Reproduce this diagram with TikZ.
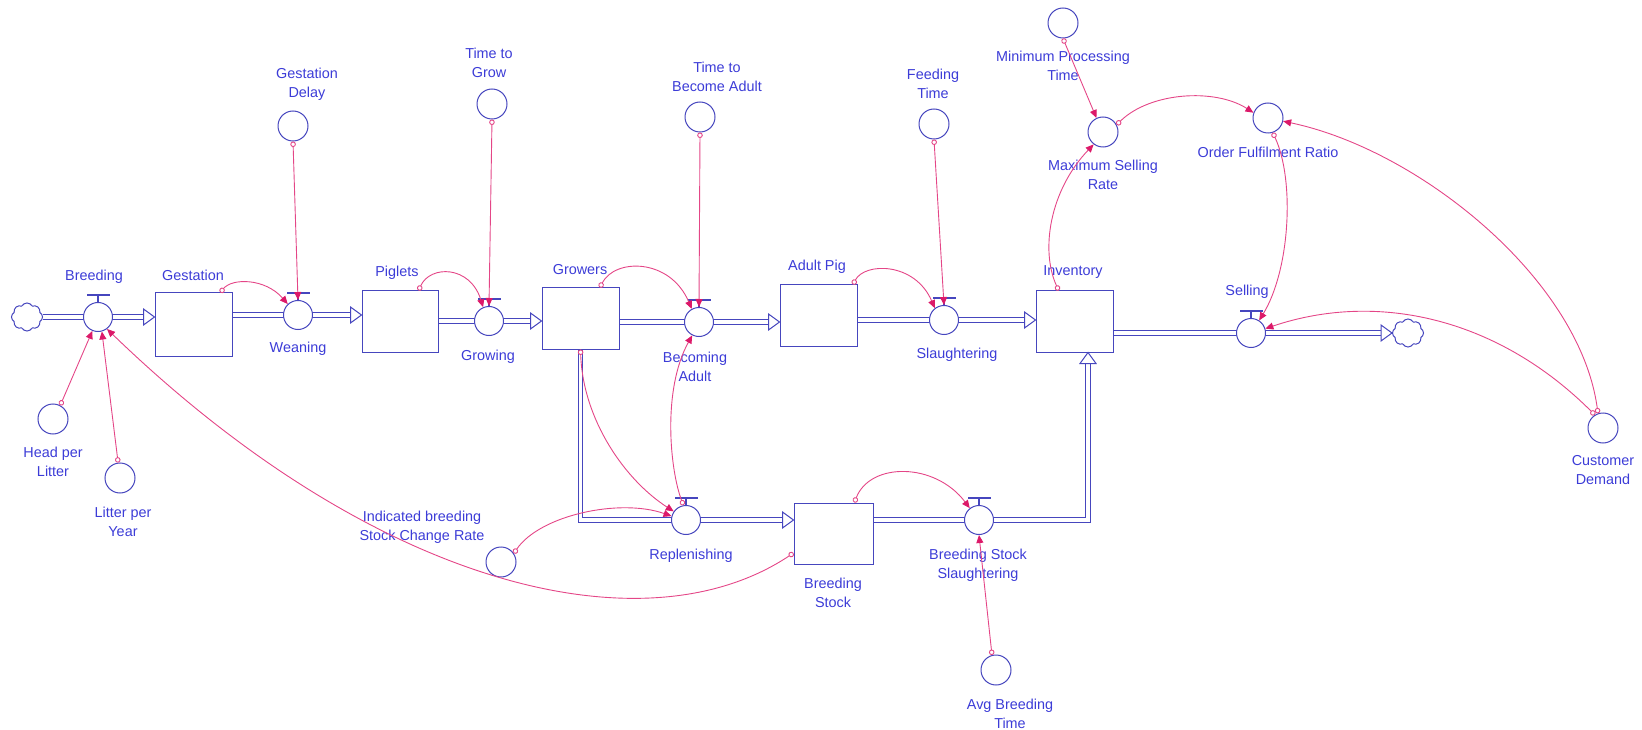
\documentclass[tikz,border=0pt]{standalone}
\usepackage{fontspec}
\setmainfont{Liberation Sans}
\usetikzlibrary{arrows.meta,shapes.symbols,calc,backgrounds}
\definecolor{sdblue}{RGB}{70,70,190}
\definecolor{sdtext}{RGB}{60,60,215}
\definecolor{sdpink}{RGB}{228,70,135}
\definecolor{sdpinkdark}{RGB}{220,25,105}
\begin{document}
\begin{tikzpicture}[x=1pt,y=-1pt,
  stock/.style={draw=sdblue, line width=1pt, fill=white, rectangle, inner sep=0pt},
  valve/.style={draw=sdblue, line width=1pt, fill=white, circle, minimum size=29pt, inner sep=0pt},
  aux/.style={draw=sdblue, line width=1pt, fill=white, circle, minimum size=30pt, inner sep=0pt},
  sdcloud/.style={draw=sdblue, line width=1pt, fill=white, cloud, cloud puffs=8, cloud puff arc=120, aspect=1.1, minimum width=31pt, minimum height=28pt, inner sep=0pt},
  lbl/.style={text=sdtext, font=\fontsize{14.4}{19}\selectfont, align=center, inner sep=0pt},
  pipe/.style={draw=sdblue, line width=1pt, double=white, double distance=3.6pt},
  conn/.style={draw=sdpink, line width=0.9pt, {Circle[length=5.5pt,width=5.5pt,fill=white]}-{Triangle[length=8pt,width=7pt,color=sdpinkdark]}},
  pipetip/.pic={\draw[draw=sdblue, fill=white, line width=1pt, line join=miter] (-11,-8) -- (0,0) -- (-11,8) -- cycle;},
  handle/.pic={\draw[sdblue, line width=1.5pt] (-11,-22) -- (12,-22); \draw[sdblue, line width=1.1pt] (0,-22) -- (0,-14.5);}
]
\useasboundingbox (0,0) rectangle (1642,730);

% stocks
\node[stock, minimum width=77pt, minimum height=63pt] (gest) at (193.5,324.5) {};
\node[stock, minimum width=76pt, minimum height=61pt] (piglets) at (400,321.5) {};
\node[stock, minimum width=77pt, minimum height=61pt] (growers) at (580.5,318.5) {};
\node[stock, minimum width=77pt, minimum height=61pt] (adult) at (818.5,315.5) {};
\node[stock, minimum width=77pt, minimum height=61pt] (inv) at (1074.5,321.5) {};
\node[stock, minimum width=79pt, minimum height=61pt] (bstock) at (833.5,533.5) {};

% clouds
\node[sdcloud] (cloudL) at (27,317) {};
\node[sdcloud] (cloudR) at (1408,333) {};

% valves
\node[valve] (breeding) at (98,317) {};
\node[valve] (weaning) at (298,315) {};
\node[valve] (growing) at (489,321) {};
\node[valve] (becoming) at (699,322) {};
\node[valve] (slaughter) at (944,320) {};
\node[valve] (selling) at (1251,333) {};
\node[valve] (repl) at (686,520) {};
\node[valve] (bss) at (979,520) {};
\foreach \v in {breeding,weaning,growing,becoming,slaughter,selling,repl,bss}
  \pic at (\v) {handle};

% auxiliaries
\node[aux] (gdelay) at (293,126) {};
\node[aux] (ttg) at (492,104) {};
\node[aux] (ttba) at (700,117) {};
\node[aux] (feed) at (934,124) {};
\node[aux] (mpt) at (1063,23) {};
\node[aux] (msr) at (1103,132) {};
\node[aux] (ofr) at (1268,118) {};
\node[aux] (cdem) at (1603,428) {};
\node[aux] (hpl) at (53,419) {};
\node[aux] (lpy) at (120,478) {};
\node[aux] (ibscr) at (501,562) {};
\node[aux] (abt) at (996,670) {};

% pipes
\coordinate (corner1) at (growers.south |- repl);
\coordinate (corner2) at (1088,520);
\begin{scope}[on background layer]
\draw[pipe] (cloudL.east) -- ($(gest.west|-breeding)+(-11,0)$);
\draw[pipe] (gest.east|-weaning) -- ($(piglets.west|-weaning)+(-11,0)$);
\draw[pipe] (piglets.east|-growing) -- ($(growers.west|-growing)+(-11,0)$);
\draw[pipe] (growers.east|-becoming) -- ($(adult.west|-becoming)+(-11,0)$);
\draw[pipe] (adult.east|-slaughter) -- ($(inv.west|-slaughter)+(-11,0)$);
\draw[pipe] (inv.east|-selling) -- ($(cloudR.west|-selling)+(-11,0)$);
\draw[pipe] (growers.south) -- (corner1) -- ($(bstock.west|-repl)+(-11,0)$);
\draw[pipe] (bstock.east|-bss) -- (corner2) -- ($(inv.south-|corner2)+(0,11)$);
\end{scope}
\pic at (gest.west|-breeding) {pipetip};
\pic at (piglets.west|-weaning) {pipetip};
\pic at (growers.west|-growing) {pipetip};
\pic at (adult.west|-becoming) {pipetip};
\pic at (inv.west|-slaughter) {pipetip};
\pic at (cloudR.west|-selling) {pipetip};
\pic at (bstock.west|-repl) {pipetip};
\pic[rotate=90] at (inv.south-|corner2) {pipetip};

% labels
\node[lbl] (lbreeding) at (94,277) {Breeding};
\node[lbl] (lgest) at (193,275) {Gestation};
\node[lbl] (lweaning) at (298,349) {Weaning};
\node[lbl] (lpiglets) at (397,273) {Piglets};
\node[lbl] (lgrowing) at (488,357) {Growing};
\node[lbl] (lgrowers) at (580,270) {Growers};
\node[lbl] (lbecoming) at (695,366.5) {Becoming\\Adult};
\node[lbl] (ladult) at (817,267) {Adult Pig};
\node[lbl] (lslaughter) at (957,355) {Slaughtering};
\node[lbl] (linv) at (1073,272) {Inventory};
\node[lbl] (lselling) at (1247,292) {Selling};
\node[lbl] (lcdem) at (1603,470.5) {Customer\\Demand};
\node[lbl] (lmpt) at (1063,66) {Minimum Processing\\Time};
\node[lbl] (lmsr) at (1103,174.5) {Maximum Selling\\Rate};
\node[lbl] (lofr) at (1268,152) {Order Fulfilment Ratio};
\node[lbl] (lhpl) at (53,461.5) {Head per\\Litter};
\node[lbl] (llpy) at (123,521.5) {Litter per\\Year};
\node[lbl] (libscr) at (422,527) {Indicated breeding\\Stock Change Rate};
\node[lbl] (lrepl) at (691,556) {Replenishing};
\node[lbl] (lbstock) at (833,592.5) {Breeding\\Stock};
\node[lbl] (lbss) at (978,565.5) {Breeding Stock\\Slaughtering};
\node[lbl] (labt) at (1010,713.5) {Avg Breeding\\Time};
\node[lbl] (lfeed) at (933,83.5) {Feeding\\Time};
\node[lbl] (lgdelay) at (307,84) {Gestation\\Delay};
\node[lbl] (lttg) at (489,63) {Time to\\Grow};
\node[lbl] (lttba) at (717,76.5) {Time to\\Become Adult};

% connectors
\draw[conn] (hpl.62) -- (breeding.248);
\draw[conn] (lpy.97) -- (breeding.285);
\draw[conn] (bstock.206) .. controls (645,652) and (375,588) .. (breeding.307);
\draw[conn] (ibscr.34) .. controls (540,515) and (620,498) .. (repl.165);
\draw[conn] (growers.south) .. controls (583,420) and (625,480) .. (repl.145);
\draw[conn] (repl.100) .. controls (670,470) and (662,390) .. (becoming.243);
\draw[conn] (gest.50) .. controls (232,278) and (265,278) .. (weaning.133);
\draw[conn] (piglets.59) .. controls (430,265) and (470,265) .. (growing.113);
\draw[conn] (growers.58) .. controls (615,258) and (670,258) .. (becoming.119);
\draw[conn] (adult.42) .. controls (865,262) and (915,262) .. (slaughter.128);
\draw[conn] (bstock.56) .. controls (870,462) and (935,462) .. (bss.128);
\draw[conn] (gdelay.south) -- (weaning.north);
\draw[conn] (ttg.south) -- (growing.north);
\draw[conn] (ttba.south) -- (becoming.north);
\draw[conn] (feed.south) -- (slaughter.north);
\draw[conn] (abt.105) -- (bss.south);
\draw[conn] (mpt.south) -- (msr.115);
\draw[conn] (msr.28) .. controls (1150,92) and (1215,88) .. (ofr.160);
\draw[conn] (inv.117) .. controls (1040,250) and (1050,190) .. (msr.233);
\draw[conn] (ofr.288) .. controls (1295,180) and (1290,270) .. (selling.57);
\draw[conn] (cdem.109) .. controls (1580,280) and (1420,150) .. (ofr.348);
\draw[conn] (cdem.122) .. controls (1500,320) and (1380,290) .. (selling.17);
\end{tikzpicture}
\end{document}
